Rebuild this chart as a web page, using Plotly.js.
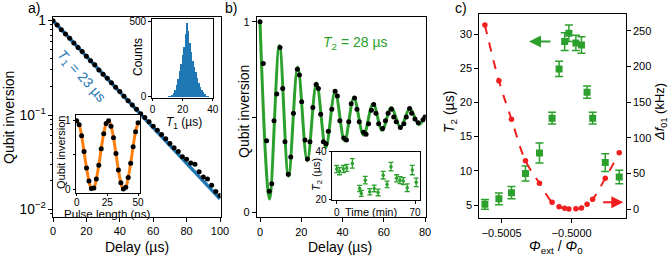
<!DOCTYPE html>
<html>
<head>
<meta charset="utf-8">
<script src="https://cdn.plot.ly/plotly-3.0.1.min.js"></script>
<style>html,body{margin:0;padding:0;background:#fff;}#chart{width:670px;height:256px;}</style>
</head>
<body>
<div id="chart"></div>
<script>
// ---------- Panel a: T1 decay ----------
const a_delay = [0,2.5,5,7.5,10,12.5,15,17.5,20,22.5,25,27.5,30,32.5,35,37.5,40,42.5,45,47.5,50,52.5,55,57.5,60,62.5,65,67.5,70,72.5,75,77.5,80,82.5,85,87.5,90,92.5,95,97.5,100];
const a_inversion = [1.0,0.90,0.80,0.72,0.65,0.58,0.52,0.47,0.42,0.375,0.34,0.30,0.27,0.245,0.22,0.197,0.177,0.158,0.142,0.128,0.115,0.103,0.094,0.085,0.076,0.069,0.062,0.056,0.050,0.045,0.041,0.036,0.034,0.031,0.030,0.025,0.022,0.021,0.018,0.0155,0.014];
const a_fit_delay = [0, 100];
const a_fit_inversion = [1.0, 0.0129];
// inset: T1 histogram
const hist_t1 = [11,12,13,14,15,16,17,18,19,20,21,22,23,24,25,26,27,28,29,30,31,32,33,34,35,36,37,38];
const hist_counts = [2,5,12,25,45,80,120,170,220,280,330,420,490,440,360,300,240,200,165,125,90,65,45,30,15,7,2,1];
// inset: Rabi oscillation
const rabi_pulse = [0,2,4,6,8,10,12,14,16,18,20,22,24,26,28,30,32,34,36,38,40,42,44,46,48,50];
const rabi_inversion = [1.0,0.94,0.78,0.55,0.31,0.12,0.01,0.02,0.15,0.35,0.59,0.81,0.96,1.0,0.92,0.75,0.52,0.28,0.095,0.005,0.03,0.17,0.38,0.62,0.84,0.97];

// ---------- Panel b: Ramsey ----------
const b_delay = [0,1.6,3.2,4.5,5.7,6.8,8.1,9.7,11.0,12.1,13.7,14.9,16.2,18.1,19.1,20.2,21.8,23.0,24.2,25.6,27.2,28.3,29.4,30.7,32.0,33.1,34.8,36.4,37.5,38.7,40.6,41.9,43.0,44.2,45.8,47.0,48.1,50.2,51.4,52.6,54.0,55.1,56.2,57.5,59.4,60.8,62.1,63.7,64.8,66.0,68.0,69.7,70.9,72.5,73.5,75.1,76.7,79.0,80.0];
const b_inversion = [1.0,0.78,0.375,0.11,0.15,0.48,0.62,0.865,0.65,0.37,0.20,0.29,0.52,0.75,0.72,0.58,0.38,0.28,0.37,0.55,0.67,0.65,0.515,0.37,0.36,0.425,0.54,0.635,0.61,0.48,0.39,0.38,0.475,0.57,0.60,0.54,0.475,0.42,0.41,0.465,0.535,0.565,0.52,0.465,0.44,0.48,0.52,0.54,0.50,0.475,0.445,0.465,0.50,0.545,0.52,0.49,0.47,0.485,0.50];
const b_fit_delay = [0,4.6,9.4,13.8,18.3,22.9,27.4,31.9,36.4,41.0,45.5,50.2,54.8,59.2,63.6,68.1,72.6,77.0,80];
const b_fit_inversion = [1.0,0.07,0.875,0.19,0.762,0.27,0.678,0.34,0.632,0.375,0.60,0.405,0.57,0.43,0.55,0.445,0.545,0.46,0.51];
// inset: T2 vs time
const t2_time = [0,2.5,6,9,14,20.5,22,25.5,29.5,33.5,37,41.5,45,48.5,53.5,56.5,59.5,63,67.5,71];
const t2_values = [32.7,31.8,32.7,33.2,35.1,24.5,22.4,28.0,23.1,24.5,22.8,30.1,26.2,33.7,28.8,28.0,27.6,24.8,32.3,27.1];
const t2_errors = [1.5,1.5,1.5,1.5,2.0,1.3,1.3,1.6,1.3,1.4,1.4,1.6,1.4,1.8,1.5,1.5,1.5,1.6,2.0,1.8];

// ---------- Panel c: flux dependence ----------
const c_flux = [-0.50062,-0.50052,-0.50043,-0.50033,-0.50023,-0.50014,-0.50009,-0.50005,-0.50002,-0.49997,-0.49993,-0.49989,-0.49985,-0.49976,-0.49966];
const c_t2 = [5.1,5.9,6.8,9.6,12.6,17.7,24.9,28.9,30.1,28.7,28.4,21.5,17.7,11.2,9.1];
const c_t2_err = [0.7,0.85,0.9,1.1,1.45,0.85,1.1,1.3,1.2,1.1,1.2,0.9,0.85,1.3,1.0];
const c_df01 = [258,180,126,68,36.4,9.8,3.6,1.4,0.3,0.8,1.8,7,14,43.4,79.2];

// ---------- layout helpers (pixel -> paper) ----------
const W = 670, H = 256;
const dX = (l, r) => [l / W, r / W];
const dY = (t, b) => [1 - b / H, 1 - t / H];
const pX = p => p / W;
const pY = p => 1 - p / H;

const BLUE = '#1f77b4', GREEN = '#2ca02c', ORANGE = '#ff7f0e', RED = '#f01e1e';
const FONT = 'Liberation Sans, Arial, Helvetica, sans-serif';

const base = {showline:true, mirror:true, linecolor:'#000', linewidth:1, ticks:'outside', ticklen:4, tickwidth:1,
  tickcolor:'#000', showgrid:false, zeroline:false, tickfont:{size:11, color:'#000', family:FONT}, fixedrange:true};
const inset = Object.assign({}, base, {ticklen:2.5, tickfont:{size:10, color:'#000', family:FONT}});

const traces = [
  {x:a_fit_delay, y:a_fit_inversion, xaxis:'x', yaxis:'y', mode:'lines', line:{color:BLUE, width:3.5}, hoverinfo:'skip'},
  {x:a_delay, y:a_inversion, xaxis:'x', yaxis:'y', mode:'markers', marker:{color:'#000', size:5}},
  {x:hist_t1, y:hist_counts, xaxis:'x2', yaxis:'y2', type:'bar', width:1, marker:{color:BLUE, line:{width:0}}},
  {x:rabi_pulse, y:rabi_inversion, xaxis:'x3', yaxis:'y3', mode:'lines', line:{color:ORANGE, width:3, shape:'spline'}},
  {x:rabi_pulse, y:rabi_inversion, xaxis:'x3', yaxis:'y3', mode:'markers', marker:{color:'#000', size:5}},
  {x:b_fit_delay, y:b_fit_inversion, xaxis:'x4', yaxis:'y4', mode:'lines', line:{color:GREEN, width:3, shape:'spline', smoothing:1}},
  {x:b_delay, y:b_inversion, xaxis:'x4', yaxis:'y4', mode:'markers', marker:{color:'#000', size:5}},
  {x:t2_time, y:t2_values, xaxis:'x5', yaxis:'y5', mode:'markers', marker:{color:GREEN, size:3.5},
   error_y:{type:'data', array:t2_errors, color:GREEN, thickness:1.3, width:2.5}},
  {x:c_flux, y:c_df01, xaxis:'x6', yaxis:'y7', mode:'lines+markers', line:{color:RED, width:2, dash:'dash', shape:'spline'},
   marker:{color:RED, size:5.5}},
  {x:c_flux, y:c_t2, xaxis:'x6', yaxis:'y6', mode:'markers', marker:{color:GREEN, size:7, symbol:'square'},
   error_y:{type:'data', array:c_t2_err, color:GREEN, thickness:1.5, width:4}}
];

function title(text, x, y, size, angle, color) {
  return {text:text, x:pX(x), y:pY(y), xref:'paper', yref:'paper', showarrow:false, textangle:angle||0,
    xanchor:'center', yanchor:'middle', font:{size:size, color:color||'#000', family:FONT}};
}

const annotations = [
  title('a)', 34, 8, 14), title('b)', 231, 8, 14), title('c)', 461, 8, 14),
  title('Delay (µs)', 137, 247, 14), title('Qubit inversion', 9, 118, 14, -90),
  title('Delay (µs)', 340, 247, 14), title('Qubit inversion', 244, 112, 14, -90),
  title('<i>Φ</i><sub>ext</sub> / <i>Φ</i><sub>0</sub>', 556, 247, 14),
  title('<i>T</i><sub>2</sub> (µs)', 450, 112, 14, -90),
  title('<i>Δf</i><sub>01</sub> (kHz)', 660, 112, 13, -90),
  title('<i>T</i><sub>1</sub> (µs)', 184, 123, 12), title('Counts', 138, 57, 12, -90),
  title('Pulse length (ns)', 107, 214, 11.5), title('Qubit inversion', 61, 153, 11, -90),
  title('Time (min)', 371, 212, 11), title('<i>T</i><sub>2</sub> (µs)', 317, 175, 11, -90),
  title('<i>T</i><sub>1</sub> = 23 µs', 81, 76, 14, 48, BLUE),
  title('<i>T</i><sub>2</sub> = 28 µs', 355, 43, 14, 0, GREEN),
  {xref:'x6', yref:'y6', axref:'x6', ayref:'y6', x:-0.500305, y:28.9, ax:-0.500141, ay:28.9, text:'', showarrow:true,
   arrowhead:2, arrowsize:1.2, arrowwidth:2, arrowcolor:GREEN},
  {xref:'x6', yref:'y7', axref:'x6', ayref:'y7', x:-0.499631, y:9.8, ax:-0.499786, ay:9.8, text:'', showarrow:true,
   arrowhead:2, arrowsize:1.2, arrowwidth:2, arrowcolor:RED}
];

const layout = {
  width:W, height:H, margin:{l:0, r:0, t:0, b:0}, showlegend:false, paper_bgcolor:'#fff', plot_bgcolor:'#fff',
  font:{family:FONT, color:'#000'}, bargap:0,
  xaxis: Object.assign({}, base, {domain:dX(53,220.5), range:[0,100.3], anchor:'y', tickvals:[0,20,40,60,80,100]}),
  yaxis: Object.assign({}, base, {domain:dY(16.7,216.7), type:'log', range:[-2.078,0.042], anchor:'x', tickmode:'linear', tick0:0, dtick:1,
    exponentformat:'power', minor:{ticks:'outside', ticklen:2, dtick:'D1', tickcolor:'#000'}}),
  xaxis2: Object.assign({}, inset, {domain:dX(151.7,213.3), range:[-0.6,40.4], anchor:'y2', tickvals:[0,20,40]}),
  yaxis2: Object.assign({}, inset, {domain:dY(19.3,97.5), range:[-5.3,516], anchor:'x2', tickvals:[0,500]}),
  xaxis3: Object.assign({}, inset, {domain:dX(76,140), range:[-0.57,51.6], anchor:'y3', tickvals:[0,25,50], ticklabelstandoff:-2}),
  yaxis3: Object.assign({}, inset, {domain:dY(115,192.7), range:[-0.05,1.083], anchor:'x3', tickvals:[0,1],
    minor:{tickvals:[0.5], ticks:'outside', ticklen:2.5, tickcolor:'#000'}}),
  xaxis4: Object.assign({}, base, {domain:dX(256.7,425.7), range:[-1.6,80.3], anchor:'y4', tickvals:[0,20,40,60,80]}),
  yaxis4: Object.assign({}, base, {domain:dY(16.7,217.3), range:[-0.026,1.026], anchor:'x4', tickvals:[0,1],
    minor:{tickvals:[0.5], ticks:'outside', ticklen:4, tickcolor:'#000'}}),
  xaxis5: Object.assign({}, inset, {domain:dX(332,420), range:[-4.2,74.4], anchor:'y5', tickvals:[0,70]}),
  yaxis5: Object.assign({}, inset, {domain:dY(151.7,200), range:[19.6,40.05], anchor:'x5', tickvals:[20,40]}),
  xaxis6: Object.assign({}, base, {domain:dX(479.3,625.7), range:[-0.50066,-0.499614], anchor:'y6', tickvals:[-0.5005,-0.5], tickformat:'.4f'}),
  yaxis6: Object.assign({}, base, {domain:dY(14.3,218.3), range:[3.06,32.88], anchor:'x6', mirror:false, tickvals:[5,10,15,20,25,30]}),
  yaxis7: Object.assign({}, base, {range:[-12.6,273], anchor:'x6', overlaying:'y6', side:'right', mirror:false, tickvals:[0,50,100,150,200,250]}),
  annotations: annotations
};

Plotly.newPlot('chart', traces, layout, {staticPlot:true, displayModeBar:false});
</script>
</body>
</html>
